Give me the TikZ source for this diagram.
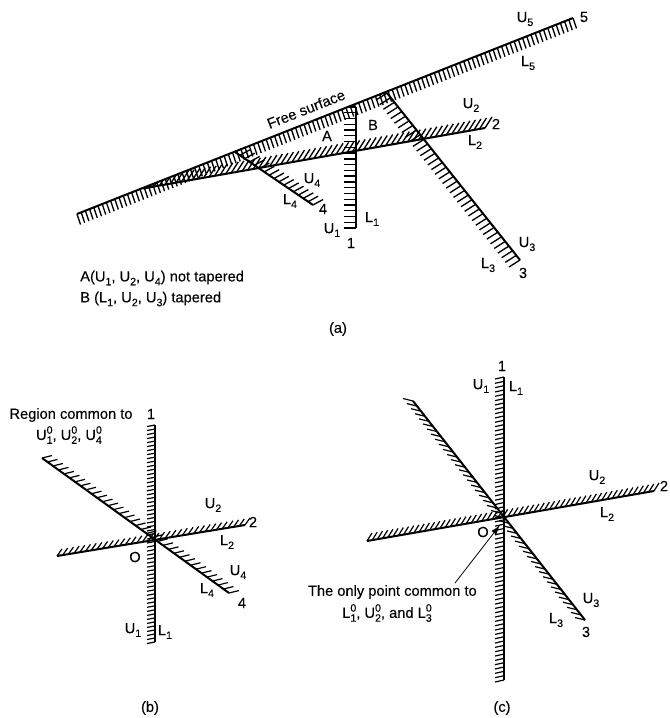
\documentclass[tikz,border=0pt]{standalone}
\usepackage{amsmath}
\usepackage{fontspec}
\setmainfont[FakeBold=0.15]{Liberation Sans}
\usepackage{tikz}
\usetikzlibrary{arrows.meta,calc}
\newcommand{\hatchline}[5][hatch]{%
  \draw[plane] (#2) -- (#3);
  \foreach \k in {0,...,#5} \draw[#1] ($(#2)!\k/#5!(#3)$) -- ++(#4);
}
\newcommand{\smalldig}[2]{\raisebox{#1}{\fontsize{8}{8}\selectfont #2}}
\newcommand{\Ub}[1]{U\smalldig{-0.5ex}{#1}}
\newcommand{\Lb}[1]{L\smalldig{-0.5ex}{#1}}
\newcommand{\Uz}[1]{U\rlap{\smalldig{0.8ex}{0}}\smalldig{-0.5ex}{#1}}
\newcommand{\Lz}[1]{L\rlap{\smalldig{0.8ex}{0}}\smalldig{-0.5ex}{#1}}

\begin{document}
\begin{tikzpicture}[
  x=0.75pt,y=-0.75pt,
  every node/.style={font=\fontsize{11}{14}\selectfont,inner sep=0pt},
  plane/.style={line width=1.5pt,draw=black},
  hatch/.style={line width=1pt,draw=black},
  thinhatch/.style={line width=0.9pt,draw=black},
  arr/.style={-{Latex[length=2.6mm,width=1.6mm]},line width=0.6pt}
]
\useasboundingbox (0,0) rectangle (670,718);

% (a)
\coordinate (a5s) at (77,214);
\coordinate (a5e) at (573,18);
\coordinate (a1s) at (356,107);
\coordinate (a1e) at (356,228);
\coordinate (a2s) at (143,188.5);
\coordinate (a2e) at (485,128);
\coordinate (a3s) at (387,93);
\coordinate (a3e) at (520,260);
\coordinate (a4s) at (235,152);
\coordinate (a4e) at (313,205);
\hatchline{a5s}{a5e}{3.5,10.5}{118}
\begin{scope}
  \clip (a5s) -- (a5e) -- (670,718) -- (0,718) -- cycle;
  \hatchline{a1s}{a1e}{-12,0}{21}
  \hatchline{a2s}{a2e}{7,-11}{62}
  \hatchline{a3s}{a3e}{-11,7}{36}
  \hatchline{a4s}{a4e}{10,-5.5}{16}
\end{scope}

\node[rotate=21.6] (free) at (306,109) {Free surface};
\node (regA) at (327,136) {A};
\node (regB) at (373,125) {B};
\node (au5) at (525,19) {\Ub{5}};
\node (al5) at (528,63) {\Lb{5}};
\node (an5) at (584,17) {5};
\node (au2) at (471,105) {\Ub{2}};
\node (al2) at (475,142) {\Lb{2}};
\node (an2) at (496,124) {2};
\node (au4) at (312,180) {\Ub{4}};
\node (al4) at (290,201) {\Lb{4}};
\node (an4) at (323,209) {4};
\node (au1) at (332,230) {\Ub{1}};
\node (al1) at (372,219) {\Lb{1}};
\node (an1) at (351,243) {1};
\node (au3) at (527,244) {\Ub{3}};
\node (al3) at (488,265) {\Lb{3}};
\node (an3) at (523,273) {3};
\node[anchor=west] (noteA) at (80,278) {A(\Ub{1}, \Ub{2}, \Ub{4}) not tapered};
\node[anchor=west] (noteB) at (80,299) {B (\Lb{1}, \Ub{2}, \Ub{3}) tapered};
\node (capa) at (338,329) {(a)};

% (b)
\coordinate (b1s) at (155,425);
\coordinate (b1e) at (155,642);
\coordinate (b2s) at (57,556);
\coordinate (b2e) at (245,525);
\coordinate (b4s) at (42,458);
\coordinate (b4e) at (229,593);
\hatchline[thinhatch]{b1s}{b1e}{-8,1.5}{54}
\hatchline[thinhatch]{b2s}{b2e}{5,-7}{33}
\hatchline[thinhatch]{b4s}{b4e}{10,-2.5}{34}

\node (region) at (71,415) {Region common to};
\node (regionb) at (69,435) {\Uz{1}, \Uz{2}, \Uz{4}};
\node (bn1) at (151,414) {1};
\node (bu2) at (213,505) {\Ub{2}};
\node (bl2) at (227,542) {\Lb{2}};
\node (bn2) at (253,522) {2};
\node (bu4) at (238,572) {\Ub{4}};
\node (bl4) at (207,590) {\Lb{4}};
\node (bn4) at (242,603) {4};
\node (bo) at (135,557) {O};
\node (bu1) at (133,630) {\Ub{1}};
\node (bl1) at (165,632) {\Lb{1}};
\node (capb) at (150,708) {(b)};

% (c)
\coordinate (c1s) at (504,377);
\coordinate (c1e) at (504,680);
\coordinate (c2s) at (367,541);
\coordinate (c2e) at (654,491);
\coordinate (c3s) at (413,401);
\coordinate (c3e) at (585,620);
\coordinate (ctail) at (455,583);
\coordinate (cpt) at (500,525);
\hatchline[thinhatch]{c1s}{c1e}{-9,2}{70}
\hatchline[thinhatch]{c2s}{c2e}{5,-8}{55}
\hatchline[thinhatch]{c3s}{c3e}{-10,-2.5}{43}
\draw[arr] (ctail) -- (cpt);

\node (cn1) at (502,366) {1};
\node (cu1) at (481,386) {\Ub{1}};
\node (cl1) at (516,388) {\Lb{1}};
\node (cu2) at (597,477) {\Ub{2}};
\node (cl2) at (607,514) {\Lb{2}};
\node (cn2) at (664,486) {2};
\node (co) at (483,532) {O};
\node (cu3) at (591,600) {\Ub{3}};
\node (cl3) at (556,620) {\Lb{3}};
\node (cn3) at (586,632) {3};
\node[anchor=east] (only) at (477,592) {The only point common to};
\node (onlyb) at (387,613) {\Lz{1}, \Uz{2}, and \Lz{3}};
\node (capc) at (502,708) {(c)};
\end{tikzpicture}
\end{document}
